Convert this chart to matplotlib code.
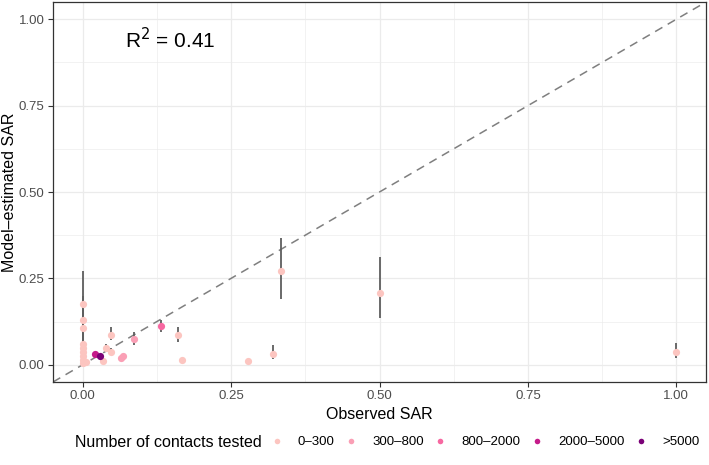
import numpy as np
import matplotlib.pyplot as plt
from matplotlib.lines import Line2D

plt.rcParams['font.family'] = ['Liberation Sans', 'DejaVu Sans']

# observed vs model-estimated SAR, with 95% intervals
obs = [0.0, 0.0, 0.0, 0.0, 0.0, 0.0, 0.0, 0.0, 0.0,
       0.006, 0.034, 0.021, 0.029, 0.040, 0.047, 0.047,
       0.064, 0.068, 0.086, 0.132, 0.160, 0.167, 0.279,
       0.320, 0.334, 0.500, 1.000]
est = [0.176, 0.130, 0.107, 0.060, 0.048, 0.036, 0.024, 0.014, 0.005,
       0.009, 0.012, 0.030, 0.026, 0.048, 0.085, 0.036,
       0.019, 0.024, 0.075, 0.113, 0.085, 0.014, 0.010,
       0.032, 0.270, 0.209, 0.036]
lo = [0.105, 0.075, 0.060, 0.030, 0.022, 0.015, 0.008, 0.004, 0.000,
      0.005, 0.008, 0.024, 0.021, 0.040, 0.072, 0.029,
      0.015, 0.019, 0.058, 0.096, 0.066, 0.010, 0.006,
      0.016, 0.190, 0.135, 0.019]
hi = [0.270, 0.200, 0.170, 0.100, 0.080, 0.060, 0.045, 0.030, 0.012,
      0.014, 0.018, 0.036, 0.032, 0.060, 0.110, 0.049,
      0.024, 0.030, 0.096, 0.130, 0.110, 0.020, 0.016,
      0.058, 0.366, 0.311, 0.064]
group = [0, 0, 0, 0, 0, 0, 0, 0, 0,
         0, 0, 3, 4, 0, 0, 0,
         1, 1, 1, 2, 0, 0, 0,
         0, 0, 0, 0]

labels = ['0–300', '300–800', '800–2000', '2000–5000', '>5000']
colors = ['#fcc5c0', '#fa9fb5', '#f768a1', '#c51b8a', '#7a0177']

fig = plt.figure(figsize=(7.09, 4.65), dpi=100)
ax = fig.add_axes([53 / 709, 1 - 382 / 465, 653 / 709, 380 / 465])

ax.set_xlim(-0.05, 1.05)
ax.set_ylim(-0.05, 1.05)
ticks = [0, 0.25, 0.5, 0.75, 1.0]
ax.set_xticks(ticks)
ax.set_yticks(ticks)
ax.set_xticklabels(['0.00', '0.25', '0.50', '0.75', '1.00'])
ax.set_yticklabels(['0.00', '0.25', '0.50', '0.75', '1.00'])
ax.set_xticks([0.125, 0.375, 0.625, 0.875], minor=True)
ax.set_yticks([0.125, 0.375, 0.625, 0.875], minor=True)
ax.grid(True, which='major', color='#ebebeb', linewidth=0.9, zorder=0)
ax.grid(True, which='minor', color='#ebebeb', linewidth=0.45, zorder=0)
ax.tick_params(which='minor', length=0)
ax.tick_params(which='major', length=3.5, width=0.8, color='#333333',
               labelcolor='#4d4d4d', labelsize=9.5, pad=2.5)
ax.set_axisbelow(True)
for s in ax.spines.values():
    s.set_color('#333333')
    s.set_linewidth(0.9)

ax.axline((0, 0), slope=1, color='#7f7f7f', linestyle=(0, (5.5, 4)),
          linewidth=1.1, zorder=1)

ax.vlines(obs, lo, hi, color='#5e5e5e', linewidth=1.3, zorder=2)
for g in range(5):
    xs = [o for o, k in zip(obs, group) if k == g]
    ys = [e for e, k in zip(est, group) if k == g]
    ax.plot(xs, ys, 'o', color=colors[g], markersize=5.2,
            markeredgewidth=0, zorder=3)

ax.text(0.148, 0.915, r'R$^2$ = 0.41', fontsize=15, ha='center',
        va='baseline', color='black')

ax.set_xlabel('Observed SAR', fontsize=11.5, labelpad=3)
ax.set_ylabel('Model–estimated SAR', fontsize=11.5, labelpad=1)

fig.text(75 / 709, 1 - 442 / 465, 'Number of contacts tested',
         fontsize=11.5, va='center', ha='left')
handles = [Line2D([], [], marker='o', linestyle='', color=c,
                  markersize=4, markeredgewidth=0) for c in colors]
fig.legend(handles, labels, loc='center left',
           bbox_to_anchor=(270 / 709, 1 - 442 / 465), ncol=5,
           frameon=False, fontsize=9.5, handlelength=1.0,
           handletextpad=1.1, columnspacing=0.75, borderpad=0,
           borderaxespad=0)

fig.savefig('out.png', dpi=100)
